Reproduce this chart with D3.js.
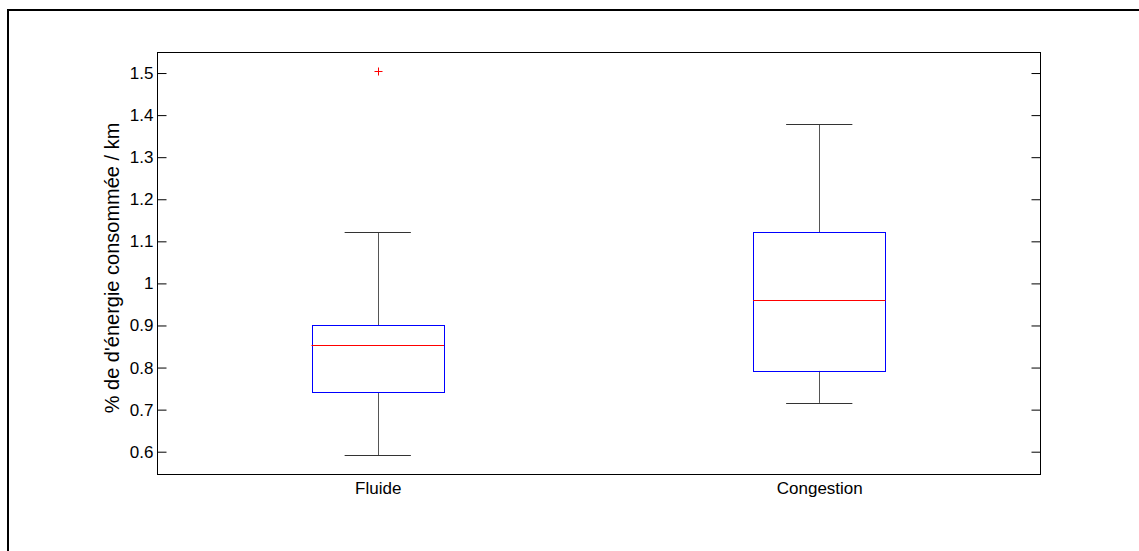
<!DOCTYPE html>
<html>
<head>
<meta charset="utf-8">
<script src="https://cdn.jsdelivr.net/npm/d3@7"></script>
<style>
  html, body { margin: 0; padding: 0; background: #fff; }
  svg { display: block; }
  text { font-family: Arial, "Liberation Sans", Helvetica, sans-serif; fill: #000; }
</style>
</head>
<body>
<script>
// ---- data ----
const categories = ["Fluide", "Congestion"];
const lowerWhisker = [0.592, 0.716];
const q1 = [0.740, 0.792];
const median = [0.854, 0.960];
const q3 = [0.900, 1.122];
const upperWhisker = [1.122, 1.378];
const outliers = [[1.505], []];
const yTicks = [0.6, 0.7, 0.8, 0.9, 1.0, 1.1, 1.2, 1.3, 1.4, 1.5];
const yTickLabels = ["0.6", "0.7", "0.8", "0.9", "1", "1.1", "1.2", "1.3", "1.4", "1.5"];
const yLabel = "% de d'énergie consommée / km";

const W = 1139, H = 551;
const plotL = 157, plotR = 1040, plotT = 52, plotB = 474;

const svg = d3.select("body").append("svg").attr("width", W).attr("height", H);

// outer figure frame
svg.append("rect").attr("x", 8).attr("y", 10).attr("width", W + 20).attr("height", H + 20)
  .attr("fill", "none").attr("stroke", "#000").attr("stroke-width", 2);

const x = d3.scaleLinear().domain([0.5, categories.length + 0.5]).range([plotL, plotR]);
const y = d3.scaleLinear().domain([0.547, 1.55]).range([plotB, plotT]);

// axes box
svg.append("rect").attr("x", plotL + 0.5).attr("y", plotT + 0.5)
  .attr("width", plotR - plotL).attr("height", plotB - plotT)
  .attr("fill", "none").attr("stroke", "#000").attr("stroke-width", 1);

// left axis (ticks inward)
const yAxisL = d3.axisLeft(y).tickValues(yTicks).tickSize(-9).tickPadding(4)
  .tickFormat((d, i) => yTickLabels[i]);
const gL = svg.append("g").attr("transform", `translate(${plotL + 0.5},0)`).call(yAxisL);
gL.select(".domain").remove();
gL.selectAll("line").attr("stroke", "#000");
gL.selectAll("text").attr("font-size", 17).attr("fill", "#000");

// right axis ticks (inward, no labels)
const yAxisR = d3.axisRight(y).tickValues(yTicks).tickSize(-9).tickFormat("");
const gR = svg.append("g").attr("transform", `translate(${plotR + 0.5},0)`).call(yAxisR);
gR.select(".domain").remove();
gR.selectAll("line").attr("stroke", "#000");

// x tick labels
const xAxis = d3.axisBottom(x).tickValues(categories.map((c, i) => i + 1)).tickSize(0).tickPadding(8)
  .tickFormat((d) => categories[d - 1]);
const gX = svg.append("g").attr("transform", `translate(0,${plotB})`).call(xAxis);
gX.select(".domain").remove();
gX.selectAll("text").attr("font-size", 17).attr("fill", "#000");

// y label
svg.append("text")
  .attr("transform", `translate(119,${(plotT + plotB) / 2 + 5}) rotate(-90)`)
  .attr("text-anchor", "middle").attr("font-size", 20).text(yLabel);

// boxes
const halfBox = 0.15, halfCap = 0.075;
const g = svg.append("g");
categories.forEach((c, i) => {
  const cx = i + 1;
  const px = Math.round(x(cx)) + 0.5;
  // whiskers
  g.append("line").attr("x1", px).attr("x2", px)
    .attr("y1", y(q3[i])).attr("y2", y(upperWhisker[i]))
    .attr("stroke", "#555").attr("stroke-width", 1);
  g.append("line").attr("x1", px).attr("x2", px)
    .attr("y1", y(q1[i])).attr("y2", y(lowerWhisker[i]))
    .attr("stroke", "#555").attr("stroke-width", 1);
  // caps
  [upperWhisker[i], lowerWhisker[i]].forEach(v => {
    g.append("line").attr("x1", x(cx - halfCap)).attr("x2", x(cx + halfCap))
      .attr("y1", Math.round(y(v)) + 0.5).attr("y2", Math.round(y(v)) + 0.5)
      .attr("stroke", "#333").attr("stroke-width", 1);
  });
  // box
  g.append("rect").attr("x", Math.round(x(cx - halfBox)) + 0.5).attr("y", Math.round(y(q3[i])) + 0.5)
    .attr("width", Math.round(x(cx + halfBox) - x(cx - halfBox)))
    .attr("height", Math.round(y(q1[i]) - y(q3[i])))
    .attr("fill", "none").attr("stroke", "#0000ff").attr("stroke-width", 1);
  // median
  g.append("line").attr("x1", x(cx - halfBox)).attr("x2", x(cx + halfBox))
    .attr("y1", Math.round(y(median[i])) + 0.5).attr("y2", Math.round(y(median[i])) + 0.5)
    .attr("stroke", "#ff0000").attr("stroke-width", 1);
  // outliers
  outliers[i].forEach(v => {
    const oy = Math.round(y(v)) + 0.5;
    g.append("line").attr("x1", px - 4).attr("x2", px + 4).attr("y1", oy).attr("y2", oy)
      .attr("stroke", "#ff0000").attr("stroke-width", 1);
    g.append("line").attr("x1", px).attr("x2", px).attr("y1", oy - 4).attr("y2", oy + 4)
      .attr("stroke", "#ff0000").attr("stroke-width", 1);
  });
});
</script>
</body>
</html>
